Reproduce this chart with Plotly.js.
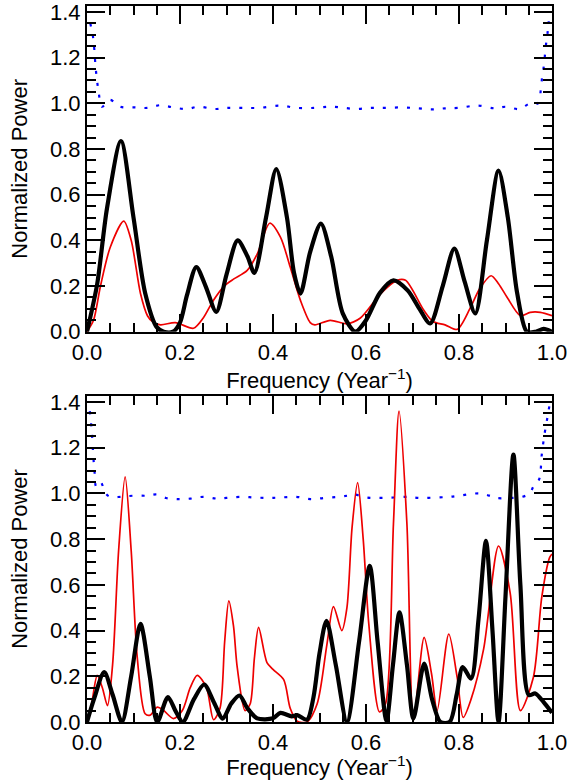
<!DOCTYPE html>
<html>
<head>
<meta charset="utf-8">
<script src="https://cdn.plot.ly/plotly-3.0.1.min.js"></script>
<style>html,body{margin:0;padding:0;background:#fff;}#chart{width:584px;height:780px;}</style>
</head>
<body>
<div id="chart"></div>
<script>
// ---------- Top panel ----------
var topBlackF = [0.000,0.022,0.043,0.073,0.100,0.125,0.150,0.165,0.185,0.200,0.215,0.235,0.255,0.278,0.300,0.324,0.345,0.360,0.385,0.407,0.430,0.445,0.459,0.480,0.503,0.525,0.550,0.577,0.600,0.630,0.659,0.690,0.715,0.738,0.765,0.790,0.812,0.835,0.860,0.885,0.905,0.925,0.946,0.965,0.982,1.000];
var topBlackP = [0.000,0.210,0.540,0.835,0.500,0.170,0.020,0.000,0.000,0.040,0.160,0.283,0.200,0.087,0.250,0.400,0.330,0.257,0.500,0.712,0.500,0.260,0.167,0.350,0.473,0.330,0.080,0.000,0.050,0.170,0.225,0.180,0.100,0.036,0.200,0.364,0.220,0.080,0.400,0.705,0.500,0.170,0.000,0.000,0.012,0.000];

var topRedF = [0.000,0.014,0.029,0.050,0.079,0.095,0.115,0.130,0.141,0.158,0.190,0.229,0.250,0.272,0.295,0.315,0.344,0.366,0.393,0.416,0.437,0.459,0.480,0.490,0.523,0.559,0.588,0.631,0.667,0.685,0.724,0.744,0.770,0.796,0.824,0.845,0.869,0.885,0.903,0.932,0.953,0.975,1.000];
var topRedP = [0.000,0.050,0.200,0.370,0.484,0.400,0.167,0.070,0.044,0.030,0.040,0.015,0.060,0.138,0.200,0.230,0.267,0.340,0.475,0.414,0.283,0.137,0.040,0.030,0.050,0.035,0.060,0.165,0.225,0.225,0.095,0.045,0.030,0.010,0.103,0.190,0.245,0.210,0.152,0.070,0.085,0.085,0.070];

var topBlueF = [0.007,0.013,0.016,0.018,0.021,0.025,0.032,0.049,0.072,0.102,0.131,0.158,0.185,0.214,0.240,0.274,0.300,0.331,0.370,0.416,0.450,0.490,0.520,0.545,0.578,0.610,0.640,0.680,0.712,0.742,0.770,0.800,0.840,0.878,0.900,0.930,0.953,0.970,0.976,0.979,0.983,0.986,0.990,0.993];
var topBlueP = [1.350,1.290,1.230,1.170,1.110,1.050,0.985,1.015,0.985,0.982,0.980,0.992,0.982,0.975,0.985,0.975,0.980,0.980,0.980,0.990,0.980,0.980,0.985,0.982,0.975,0.980,0.980,0.982,0.978,0.973,0.978,0.980,0.990,0.978,0.985,0.975,1.000,1.000,1.060,1.120,1.170,1.240,1.300,1.360];

// ---------- Bottom panel ----------
var botBlackF = [0.000,0.015,0.037,0.055,0.075,0.095,0.115,0.135,0.151,0.174,0.190,0.206,0.230,0.252,0.272,0.292,0.310,0.328,0.345,0.366,0.400,0.416,0.440,0.452,0.473,0.487,0.500,0.515,0.535,0.559,0.585,0.608,0.625,0.644,0.658,0.672,0.688,0.702,0.725,0.742,0.760,0.780,0.795,0.808,0.826,0.842,0.858,0.872,0.885,0.900,0.917,0.932,0.950,0.964,0.982,1.000];
var botBlackP = [0.000,0.100,0.218,0.120,0.000,0.200,0.429,0.200,0.000,0.109,0.050,0.000,0.100,0.164,0.090,0.015,0.080,0.116,0.060,0.016,0.016,0.040,0.025,0.030,0.010,0.108,0.300,0.443,0.250,0.000,0.350,0.683,0.350,0.005,0.250,0.480,0.250,0.015,0.255,0.100,0.000,0.000,0.120,0.240,0.190,0.450,0.792,0.400,0.000,0.550,1.170,0.600,0.118,0.125,0.087,0.040];

var botRedF = [0.000,0.010,0.022,0.033,0.044,0.055,0.068,0.082,0.095,0.108,0.125,0.136,0.151,0.165,0.186,0.205,0.222,0.237,0.257,0.272,0.286,0.296,0.305,0.315,0.323,0.340,0.351,0.360,0.369,0.387,0.400,0.423,0.437,0.452,0.473,0.495,0.516,0.530,0.548,0.559,0.570,0.582,0.594,0.606,0.629,0.642,0.659,0.671,0.688,0.702,0.725,0.741,0.753,0.778,0.796,0.809,0.826,0.853,0.885,0.910,0.932,0.960,0.978,0.995,1.000];
var botRedP = [0.000,0.080,0.204,0.150,0.072,0.250,0.750,1.072,0.750,0.284,0.036,0.030,0.065,0.050,0.015,0.050,0.150,0.204,0.150,0.010,0.060,0.350,0.530,0.420,0.240,0.050,0.080,0.280,0.414,0.260,0.230,0.185,0.060,0.003,0.000,0.080,0.340,0.505,0.400,0.500,0.850,1.047,0.800,0.429,0.044,0.080,0.866,1.360,0.866,0.005,0.370,0.210,0.050,0.385,0.196,0.020,0.100,0.320,0.770,0.565,0.050,0.196,0.546,0.720,0.735];

var botBlueF = [0.006,0.010,0.013,0.016,0.020,0.029,0.040,0.050,0.073,0.100,0.130,0.150,0.170,0.193,0.222,0.250,0.280,0.300,0.330,0.360,0.390,0.416,0.450,0.480,0.510,0.540,0.560,0.575,0.600,0.630,0.660,0.690,0.715,0.750,0.780,0.800,0.844,0.865,0.880,0.910,0.936,0.952,0.960,0.972,0.978,0.984,0.990,0.995];
var botBlueP = [1.360,1.280,1.180,1.100,1.030,1.050,1.000,0.985,0.985,0.990,0.990,0.995,0.980,0.975,0.977,0.985,0.977,0.980,0.985,0.982,0.980,0.982,0.985,0.975,0.980,0.985,0.990,0.995,0.982,0.980,0.982,0.985,0.980,0.982,0.985,0.990,1.000,0.990,0.980,0.980,0.985,1.000,1.030,1.060,1.170,1.260,1.330,1.390];

var xTitle = 'Frequency (Year<sup>\u22121</sup>)';
var yTitle = 'Normalized Power';

var FONT = 'Liberation Sans, Arial, Helvetica, sans-serif';

function blue(f, p, xa, ya) {
  return {x: f, y: p, xaxis: xa, yaxis: ya, mode: 'lines', type: 'scatter',
    line: {color: '#0000ff', width: 2.2, dash: '3px,9px', shape: 'spline'}, hoverinfo: 'skip'};
}
function red(f, p, xa, ya) {
  return {x: f, y: p, xaxis: xa, yaxis: ya, mode: 'lines', type: 'scatter',
    line: {color: '#ee0000', width: 1.7, shape: 'spline', smoothing: 0.8}, hoverinfo: 'skip'};
}
function black(f, p, xa, ya) {
  return {x: f, y: p, xaxis: xa, yaxis: ya, mode: 'lines', type: 'scatter',
    line: {color: '#000000', width: 4.2, shape: 'spline', smoothing: 0.8}, hoverinfo: 'skip'};
}

var data = [
  blue(topBlueF, topBlueP, 'x', 'y'),
  red(topRedF, topRedP, 'x', 'y'),
  black(topBlackF, topBlackP, 'x', 'y'),
  blue(botBlueF, botBlueP, 'x2', 'y2'),
  red(botRedF, botRedP, 'x2', 'y2'),
  black(botBlackF, botBlackP, 'x2', 'y2')
];

function xaxis(anchor) {
  return {
    anchor: anchor, domain: [0, 1], range: [0, 1], autorange: false,
    showline: true, linecolor: '#000', linewidth: 2, mirror: 'ticks',
    ticks: 'inside', ticklen: 18, tickwidth: 2, tickcolor: '#000',
    tick0: 0, dtick: 0.2, tickformat: '.1f', ticklabeloverflow: 'allow',
    minor: {dtick: 0.05, tick0: 0, ticks: 'inside', ticklen: 9, tickwidth: 2, tickcolor: '#000', showgrid: false},
    showgrid: false, zeroline: false,
    tickfont: {family: FONT, size: 22, color: '#000'},
    title: {text: xTitle, font: {family: FONT, size: 22, color: '#000'}, standoff: 6}
  };
}
function yaxis(anchor, dom) {
  return {
    anchor: anchor, domain: dom, range: [0, 1.426], autorange: false,
    showline: true, linecolor: '#000', linewidth: 2, mirror: 'ticks',
    ticks: 'inside', ticklen: 18, tickwidth: 2, tickcolor: '#000',
    tick0: 0, dtick: 0.2, tickformat: '.1f', ticklabeloverflow: 'allow',
    minor: {dtick: 0.05, tick0: 0, ticks: 'inside', ticklen: 9, tickwidth: 2, tickcolor: '#000', showgrid: false},
    showgrid: false, zeroline: false,
    tickfont: {family: FONT, size: 22, color: '#000'},
    title: {text: yTitle, font: {family: FONT, size: 22, color: '#000'}, standoff: 16}
  };
}

var layout = {
  width: 584, height: 780,
  margin: {l: 87, r: 32, t: 6, b: 58, pad: 0},
  paper_bgcolor: '#fff', plot_bgcolor: '#fff',
  showlegend: false,
  font: {family: FONT, size: 22, color: '#000'},
  xaxis: xaxis('y'),
  yaxis: yaxis('x', [0.5451, 1]),
  xaxis2: xaxis('y2'),
  yaxis2: yaxis('x2', [0, 0.4553])
};

Plotly.newPlot('chart', data, layout, {staticPlot: true, displayModeBar: false});
</script>
</body>
</html>
